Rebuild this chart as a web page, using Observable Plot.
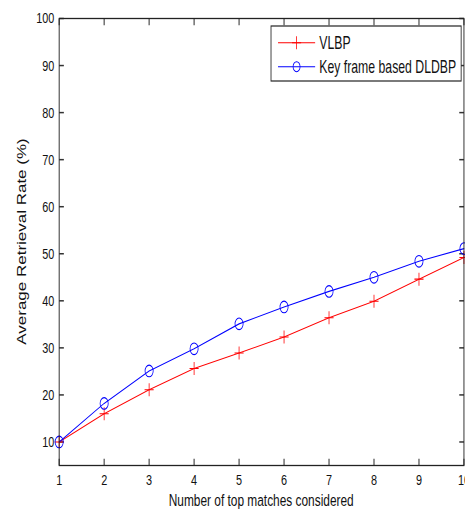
<!DOCTYPE html>
<html><head><meta charset="utf-8">
<script src="https://cdn.jsdelivr.net/npm/d3@7"></script>
<script src="https://cdn.jsdelivr.net/npm/@observablehq/plot@0.6"></script>
<style>
body{margin:0;background:#fff;}
#chart{width:465px;height:513px;overflow:hidden;}
</style>
</head><body><div id="chart"></div>
<script>
// ---- data ----
const matches = [1, 2, 3, 4, 5, 6, 7, 8, 9, 10];
const vlbp    = [10, 16.0, 21.1, 25.6, 28.9, 32.3, 36.4, 39.9, 44.6, 49.2];
const dldbp   = [10, 18.2, 25.1, 29.8, 35.1, 38.7, 42.0, 45.0, 48.4, 51.1];
const seriesNames = ["VLBP", "Key frame based DLDBP"];
const seriesColors = ["#ff0000", "#0000ff"];
const xTicks = [1, 2, 3, 4, 5, 6, 7, 8, 9, 10];
const yTicks = [10, 20, 30, 40, 50, 60, 70, 80, 90, 100];
const xLabel = "Number of top matches considered";
const yLabel = "Average Retrieval Rate (%)";

// the reference is horizontally compressed; draw wide, then squeeze
const SQ = 0.7;
const W = Math.round(465 / SQ);
const H = 513;
const font = "'Liberation Sans', Arial, Helvetica, sans-serif";

const rowsV = matches.map((m, i) => ({m, v: vlbp[i]}));
const rowsD = matches.map((m, i) => ({m, v: dldbp[i]}));

const rad = s => Math.sqrt(s / Math.PI);
const plusSym = {draw(c, s){const r = rad(s); c.moveTo(-r,0); c.lineTo(r,0); c.moveTo(0,-r); c.lineTo(0,r);}};
const tickUp = {draw(c, s){const r = rad(s); c.moveTo(0,0); c.lineTo(0,-r);}};
const tickDown = {draw(c, s){const r = rad(s); c.moveTo(0,0); c.lineTo(0,r);}};
const tickRight = {draw(c, s){const r = rad(s); c.moveTo(0,0); c.lineTo(r,0);}};
const tickLeft = {draw(c, s){const r = rad(s); c.moveTo(0,0); c.lineTo(-r,0);}};
const TL = 6.7, tickCol = "#333";

const plot = Plot.plot({
  width: W, height: H,
  marginLeft: 84, marginRight: 2, marginTop: 18, marginBottom: 48,
  style: {fontFamily: font, fontSize: "15px", color: "#111", background: "#fff"},
  x: {domain: [1, 10]},
  y: {domain: [5, 100]},
  marks: [
    Plot.axisX(xTicks, {tickSize: 0, tickPadding: 8, label: null, tickFormat: d => String(d), fontSize: 15.5, fill: "#111"}),
    Plot.axisY(yTicks, {tickSize: 0, tickPadding: 7, label: null, tickFormat: d => String(d), fontSize: 15.5, fill: "#111"}),
    Plot.dot(xTicks, {x: d => d, frameAnchor: "bottom", symbol: tickUp, r: TL, stroke: tickCol, fill: "none"}),
    Plot.dot(xTicks, {x: d => d, frameAnchor: "top", symbol: tickDown, r: TL, stroke: tickCol, fill: "none"}),
    Plot.dot(yTicks, {y: d => d, frameAnchor: "left", symbol: tickRight, r: TL, stroke: tickCol, fill: "none"}),
    Plot.dot(yTicks, {y: d => d, frameAnchor: "right", symbol: tickLeft, r: TL, stroke: tickCol, fill: "none"}),
    Plot.line(rowsV, {x: "m", y: "v", stroke: seriesColors[0], strokeWidth: 1.1}),
    Plot.dot(rowsV, {x: "m", y: "v", symbol: plusSym, r: 6.5, stroke: seriesColors[0], fill: "none", strokeWidth: 1.1}),
    Plot.line(rowsD, {x: "m", y: "v", stroke: seriesColors[1], strokeWidth: 1.1}),
    Plot.dot(rowsD, {x: "m", y: "v", symbol: "circle", r: 5.8, stroke: seriesColors[1], fill: "none", strokeWidth: 1.1}),
    Plot.frame({stroke: "#222", strokeWidth: 1.3})
  ]
});

const svg = d3.select(plot);
// axis titles
svg.append("text").attr("x", (84 + W - 2) / 2).attr("y", 506.5)
  .attr("text-anchor", "middle").attr("font-family", font).attr("font-size", 17).attr("fill", "#111")
  .text(xLabel);
svg.append("text").attr("transform", `translate(37.5,${(18 + H - 48) / 2}) rotate(-90)`)
  .attr("text-anchor", "middle").attr("font-family", font).attr("font-size", 17).attr("fill", "#111")
  .text(yLabel);

// legend
const lg = svg.append("g").attr("text-anchor", "start");
lg.append("rect").attr("x", 387).attr("y", 26).attr("width", 271.5).attr("height", 55)
  .attr("fill", "#fff").attr("stroke", "#222").attr("stroke-width", 1.2);
const rowsY = [42.7, 66.7];
seriesNames.forEach((name, i) => {
  const y = rowsY[i], c = seriesColors[i];
  lg.append("line").attr("x1", 397).attr("x2", 450).attr("y1", y).attr("y2", y).attr("stroke", c).attr("stroke-width", 1.1);
  if (i === 0) {
    lg.append("path").attr("d", `M${423.5-6.5},${y}H${423.5+6.5}M423.5,${y-6.5}V${y+6.5}`).attr("stroke", c).attr("stroke-width", 1.1);
  } else {
    lg.append("circle").attr("cx", 423.5).attr("cy", y).attr("r", 5).attr("fill", "none").attr("stroke", c).attr("stroke-width", 1.1);
  }
  lg.append("text").attr("x", 456).attr("y", y).attr("dy", "0.36em").attr("text-anchor", "start").attr("font-family", font)
    .attr("font-size", 17.5).attr("fill", "#111").text(name);
});

plot.setAttribute("width", 465);
plot.setAttribute("height", H);
plot.setAttribute("viewBox", `0 0 ${W} ${H}`);
plot.setAttribute("preserveAspectRatio", "none");
plot.style.maxWidth = "none";
plot.style.width = "465px";
plot.style.height = H + "px";
document.getElementById("chart").appendChild(plot);
</script>
</body></html>
